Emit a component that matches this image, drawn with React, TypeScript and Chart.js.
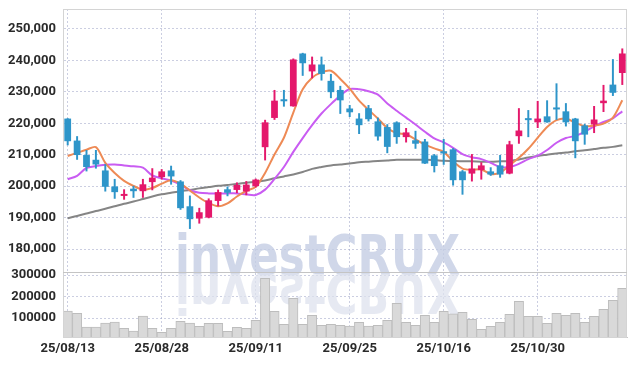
import React, { useEffect, useRef } from "react";
import { Chart, registerables } from "chart.js";

Chart.register(...registerables);

const DATES = [
  "25/08/13", "25/08/14", "25/08/18", "25/08/19", "25/08/20", "25/08/21", "25/08/22", "25/08/25", "25/08/26", "25/08/27",
  "25/08/28", "25/08/29", "25/09/01", "25/09/02", "25/09/03", "25/09/04", "25/09/05", "25/09/08", "25/09/09", "25/09/10",
  "25/09/11", "25/09/12", "25/09/15", "25/09/16", "25/09/17", "25/09/18", "25/09/19", "25/09/22", "25/09/23", "25/09/24",
  "25/09/25", "25/09/26", "25/09/29", "25/09/30", "25/10/01", "25/10/02", "25/10/10", "25/10/13", "25/10/14", "25/10/15",
  "25/10/16", "25/10/17", "25/10/20", "25/10/21", "25/10/22", "25/10/23", "25/10/24", "25/10/27", "25/10/28", "25/10/29",
  "25/10/30", "25/10/31", "25/11/03", "25/11/04", "25/11/05", "25/11/06", "25/11/07", "25/11/10", "25/11/11", "25/11/12",
];

const OPEN = [
  221500, 214500, 209900, 208400, 205000, 199900, 196900, 199200, 198400, 201300,
  202900, 205000, 201500, 193600, 189700, 190000, 195300, 199000, 198800, 198300,
  200000, 212400, 221700, 227300, 225400, 242200, 236500, 238700, 233500, 230600,
  224700, 221500, 224800, 220600, 218800, 220300, 215600, 214600, 214200, 209800,
  211100, 211700, 204700, 204000, 205100, 204700, 206600, 204000, 215900, 221500,
  220300, 222200, 224700, 223800, 221500, 219300, 219600, 226400, 232300, 236000,
];
const HIGH = [
  221500, 215800, 211400, 211400, 206900, 202200, 198900, 200000, 202200, 205600,
  205300, 206400, 201800, 196900, 193000, 196000, 198800, 199800, 201100, 201500,
  202300, 221000, 230500, 230500, 240500, 242300, 241100, 241100, 235600, 231800,
  225700, 223100, 225700, 221700, 219600, 220500, 218400, 217500, 214900, 210100,
  214900, 212000, 205000, 210100, 207500, 205900, 209800, 214300, 224700, 224100,
  227000, 227200, 232600, 226300, 221600, 219700, 225400, 232100, 240300, 243700,
];
const LOW = [
  213100, 208500, 204800, 205700, 198400, 196100, 195800, 196400, 196400, 198800,
  202200, 200600, 192600, 186500, 188200, 189900, 193700, 196900, 197900, 197200,
  199700, 208300, 221200, 225400, 225400, 235200, 234400, 233700, 228100, 223100,
  222100, 216700, 220700, 214600, 210600, 213600, 214000, 212000, 207200, 204500,
  206900, 200300, 197400, 201600, 202200, 203400, 202800, 203900, 213600, 215700,
  218600, 220300, 221200, 219100, 209000, 213300, 217000, 223700, 228800, 232300,
];
const CLOSE = [
  214300, 209900, 206100, 206900, 199800, 198100, 197400, 198400, 200600, 202700,
  204700, 203100, 193000, 189500, 191700, 195500, 198100, 197900, 200400, 200500,
  202100, 220300, 227200, 227000, 240300, 239100, 238700, 235700, 229900, 227300,
  223500, 219400, 221300, 215800, 212500, 215600, 217100, 213500, 207200, 206400,
  210400, 201900, 201900, 205600, 206600, 203700, 203700, 213300, 217700, 221000,
  221500, 220300, 224400, 220300, 214300, 216400, 221200, 227200, 229700, 242200,
];

const MA5 = [
  209600, 210600, 211600, 212400, 207400, 204200, 201700, 200100, 198900, 199400,
  200800, 201900, 200800, 198600, 196400, 194600, 193600, 194500, 196700, 198500,
  199800, 204200, 210100, 215400, 223400, 230800, 234500, 236200, 236700, 234100,
  231000, 227200, 224300, 221500, 218500, 216900, 216500, 214900, 213200, 212000,
  210900, 207900, 205600, 205200, 205300, 203900, 204300, 206600, 209000, 211900,
  215400, 218800, 221000, 221500, 220200, 219100, 219300, 219900, 221800, 227300,
];
const MA10 = [
  202200, 203300, 205800, 206400, 206800, 206900, 206600, 206300, 205900, 203400,
  202500, 201800, 200500, 198700, 197900, 197700, 197700, 197700, 197700, 197400,
  197200, 198900, 202300, 206100, 210900, 215300, 219400, 223100, 226100, 228800,
  230900, 230800, 230200, 229100, 226300, 224000, 221800, 219600, 217300, 215200,
  213900, 212200, 210200, 209200, 208600, 207400, 206100, 206100, 207100, 208600,
  209700, 211500, 213800, 215300, 216000, 217300, 219000, 220400, 221600, 223800,
];
const MA60 = [
  189800, 190500, 191300, 192100, 192800, 193600, 194400, 195100, 195900, 196700,
  197400, 197900, 198400, 198800, 199300, 199700, 200100, 200400, 200700, 201100,
  201400, 201800, 202500, 203100, 203700, 204500, 205500, 206100, 206600, 206900,
  207200, 207600, 207800, 208000, 208200, 208400, 208400, 208400, 208400, 208300,
  208100, 208000, 207900, 207900, 207800, 207800, 207900, 208000, 208500, 209100,
  209600, 210000, 210400, 210700, 211100, 211400, 211800, 212200, 212500, 213000,
];

const VOLUME = [
  132600, 121800, 58100, 58000, 76700, 81400, 52000, 39500, 109300, 52000,
  33500, 52000, 84700, 76700, 61000, 75300, 75300, 38000, 56700, 52000,
  89000, 284600, 131000, 70700, 191600, 70700, 112600, 66000, 70700, 66000,
  62800, 80000, 62800, 66000, 89000, 168000, 80000, 66000, 112600, 80000,
  131000, 120000, 126500, 94000, 47400, 61400, 80000, 117000, 177700, 108000,
  108000, 75000, 121800, 112600, 121800, 80000, 108000, 140500, 182000, 238000,
];

const PRICE_TICKS = [180000, 190000, 200000, 210000, 220000, 230000, 240000, 250000];
const VOLUME_TICKS = [100000, 200000, 300000];

const UP = "#E4186B";
const DOWN = "#2E95C9";
const GRID = "rgba(160,165,200,0.55)";
const TICK_FONT = { family: "Roboto", size: 13, weight: "bold" as const };
const TICK_COLOR = "#2a2a2a";

const candleColor = (ctx: any) => {
  const i = ctx.dataIndex;
  return CLOSE[i] >= OPEN[i] ? UP : DOWN;
};

const framePlugin = {
  id: "frame",
  beforeDatasetsDraw(chart: any) {
    const { ctx, chartArea } = chart;
    ctx.save();
    ctx.font = 'bold 56px "DejaVu Sans"';
    const text = "investCRUX";
    const w = ctx.measureText(text).width;
    const sx = 285 / w;
    ctx.translate(chartArea.left + 112, 274);
    ctx.scale(sx, 1);
    ctx.textBaseline = "alphabetic";
    ctx.textAlign = "left";
    ctx.fillStyle = "rgba(196,205,228,0.8)";
    ctx.fillText(text, 0, 0);
    ctx.scale(1, -1);
    ctx.fillStyle = "rgba(222,226,238,0.75)";
    ctx.fillText(text, 0, 0);
    ctx.restore();
  },
  afterDraw(chart: any) {
    const { ctx, chartArea } = chart;
    const yv = chart.scales.yv;
    ctx.save();
    ctx.strokeStyle = "#d4d4d4";
    ctx.lineWidth = 1;
    ctx.strokeRect(chartArea.left + 0.5, chartArea.top + 0.5, chartArea.right - chartArea.left - 1, chartArea.bottom - chartArea.top);
    ctx.strokeStyle = "#c4c4c4";
    ctx.beginPath();
    ctx.moveTo(chartArea.left, Math.round(yv.top) + 0.5);
    ctx.lineTo(chartArea.right, Math.round(yv.top) + 0.5);
    ctx.stroke();
    ctx.restore();
  },
};

export default function App() {
  const ref = useRef<HTMLCanvasElement | null>(null);

  useEffect(() => {
    if (!ref.current) return;
    const chart = new Chart(ref.current, {
      type: "bar",
      data: {
        labels: DATES,
        datasets: [
          {
            type: "line",
            label: "MA5",
            data: MA5,
            yAxisID: "y",
            borderColor: "#EE8A55",
            borderWidth: 2,
            pointRadius: 0,
            tension: 0.3,
            order: 3,
          },
          {
            type: "line",
            label: "MA10",
            data: MA10,
            yAxisID: "y",
            borderColor: "#C95CF2",
            borderWidth: 2,
            pointRadius: 0,
            tension: 0.3,
            order: 3,
          },
          {
            type: "line",
            label: "MA60",
            data: MA60,
            yAxisID: "y",
            borderColor: "#858585",
            borderWidth: 2,
            pointRadius: 0,
            tension: 0.3,
            order: 3,
          },
          {
            type: "bar",
            label: "body",
            data: OPEN.map((o, i) => [o, CLOSE[i]]),
            yAxisID: "y",
            backgroundColor: candleColor,
            grouped: false,
            barPercentage: 0.72,
            categoryPercentage: 1,
            minBarLength: 2,
            order: 1,
          },
          {
            type: "bar",
            label: "wick",
            data: LOW.map((l, i) => [l, HIGH[i]]),
            yAxisID: "y",
            backgroundColor: candleColor,
            grouped: false,
            barThickness: 1.3,
            order: 2,
          },
          {
            type: "bar",
            label: "volume",
            data: VOLUME,
            yAxisID: "yv",
            backgroundColor: "#d9d9d9",
            borderColor: "#bdbdbd",
            borderWidth: 1,
            grouped: false,
            barPercentage: 1,
            categoryPercentage: 1,
            order: 4,
          },
        ] as any,
      },
      options: {
        animation: false,
        responsive: false,
        maintainAspectRatio: false,
        layout: { padding: { top: 9, right: 10, left: 0, bottom: 0 } },
        plugins: { legend: { display: false }, tooltip: { enabled: false } },
        scales: {
          x: {
            type: "category",
            offset: true,
            grid: { offset: false, color: GRID, drawTicks: false } as any,
            border: { display: true, color: "#c8c8c8", dash: [2, 2] } as any,
            ticks: { autoSkip: false, maxRotation: 0, padding: 4, color: TICK_COLOR, font: TICK_FONT },
            afterBuildTicks(scale: any) {
              scale.ticks = scale.ticks.filter((t: any) => t.value % 10 === 0);
            },
            afterFit(scale: any) {
              scale.height = 29;
              scale.paddingLeft = 0;
              scale.paddingRight = 0;
            },
          },
          yv: {
            type: "linear",
            position: "left",
            stack: "main",
            stackWeight: 65,
            min: 12000,
            max: 314000,
            grid: { color: GRID, drawTicks: false },
            border: { display: true, color: "#cfcfcf", dash: [2, 2] } as any,
            ticks: { autoSkip: false, padding: 7, color: TICK_COLOR, font: TICK_FONT, callback: (v: any) => String(v) },
            afterBuildTicks(scale: any) {
              scale.ticks = VOLUME_TICKS.map((v) => ({ value: v }));
            },
            afterFit(scale: any) {
              scale.width = 63;
              scale.paddingTop = 0;
              scale.paddingBottom = 0;
            },
          },
          y: {
            type: "linear",
            position: "left",
            stack: "main",
            stackWeight: 263,
            min: 172700,
            max: 256350,
            grid: { color: GRID, drawTicks: false },
            border: { display: true, color: "#cfcfcf", dash: [2, 2] } as any,
            ticks: {
              autoSkip: false,
              padding: 7,
              color: TICK_COLOR,
              font: TICK_FONT,
              callback: (v: any) => Number(v).toLocaleString("en-US"),
            },
            afterBuildTicks(scale: any) {
              scale.ticks = PRICE_TICKS.map((v) => ({ value: v }));
            },
            afterFit(scale: any) {
              scale.width = 63;
              scale.paddingTop = 0;
              scale.paddingBottom = 0;
            },
          },
        } as any,
      },
      plugins: [framePlugin],
    });
    return () => chart.destroy();
  }, []);

  return (
    <div style={{ position: "fixed", left: 0, top: 0, width: 637, height: 366, background: "#fff" }}>
      <canvas ref={ref} width={637} height={366} style={{ display: "block" }} />
    </div>
  );
}
